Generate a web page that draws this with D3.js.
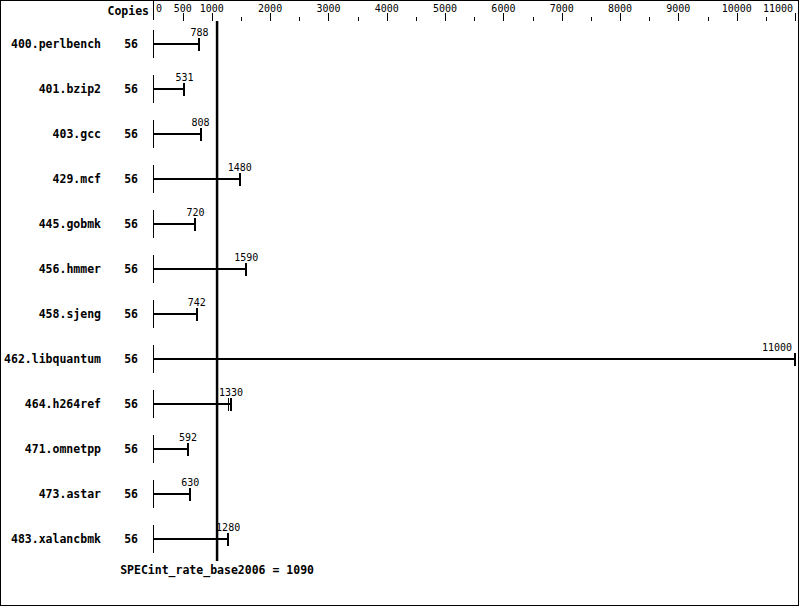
<!DOCTYPE html>
<html>
<head>
<meta charset="utf-8">
<script src="https://cdn.jsdelivr.net/npm/d3@7"></script>
<style>
  html, body { margin: 0; padding: 0; background: #fff; }
  svg { display: block; }
</style>
</head>
<body>
<div id="chart"></div>
<script>
const benchmarks = ["400.perlbench","401.bzip2","403.gcc","429.mcf","445.gobmk","456.hmmer","458.sjeng","462.libquantum","464.h264ref","471.omnetpp","473.astar","483.xalancbmk"];
const copies = [56,56,56,56,56,56,56,56,56,56,56,56];
const ratios = [788,531,808,1480,720,1590,742,11000,1330,592,630,1280];
const extraRunBench = ["464.h264ref"];
const extraRunValue = [1290];
const majorTicks = [500,1000,2000,3000,4000,5000,6000,7000,8000,9000,10000,11000];
const minorTicks = [1500,2500,3500,4500,5500,6500,7500,8500,9500,10500];
const tickLabels = [0,500,1000,2000,3000,4000,5000,6000,7000,8000,9000,10000,11000];
const baseScore = 1090;
const summaryLabel = "SPECint_rate_base2006 = 1090";

const W = 799, H = 606;
const svg = d3.select("#chart").append("svg").attr("width", W).attr("height", H);

svg.append("rect").attr("x",0.5).attr("y",0.5).attr("width",W-1).attr("height",H-1)
  .attr("fill","#fff").attr("stroke","#000").attr("stroke-width",1);

const x = d3.scaleLinear().domain([0, 11000]).range([153.5, 795]);
const y = d3.scalePoint().domain(benchmarks).range([44, 539]);

const mono = "'DejaVu Sans Mono', 'Liberation Mono', monospace";

// axis
const gAxis = svg.append("g").attr("shape-rendering","crispEdges");
gAxis.append("line").attr("x1",153.5).attr("x2",153.5).attr("y1",0).attr("y2",20).attr("stroke","#000");
gAxis.selectAll("line.maj").data(majorTicks).join("line").attr("class","maj")
  .attr("x1",d=>Math.round(x(d))+0.5).attr("x2",d=>Math.round(x(d))+0.5)
  .attr("y1",13).attr("y2",21).attr("stroke","#000");
gAxis.selectAll("line.min").data(minorTicks).join("line").attr("class","min")
  .attr("x1",d=>Math.round(x(d))+0.5).attr("x2",d=>Math.round(x(d))+0.5)
  .attr("y1",17).attr("y2",21).attr("stroke","#000");
svg.selectAll("text.tick").data(tickLabels).join("text").attr("class","tick")
  .attr("x", d => d === 0 ? 156 : (d === 11000 ? 793 : x(d)))
  .attr("y", 12)
  .attr("text-anchor", d => d === 0 ? "start" : (d === 11000 ? "end" : "middle"))
  .attr("font-family", mono).attr("font-size","10px")
  .text(d => d);

svg.append("text").attr("x",149).attr("y",15).attr("text-anchor","end")
  .attr("font-family",mono).attr("font-size","11.5px").attr("font-weight","bold").text("Copies");

// rows
const rows = benchmarks.map((b,i)=>({b, c: copies[i], v: ratios[i]}));
const gRows = svg.append("g");
gRows.selectAll("text.name").data(rows).join("text").attr("class","name")
  .attr("x",101).attr("y",d=>y(d.b)+4).attr("text-anchor","end")
  .attr("font-family",mono).attr("font-size","11.5px").attr("font-weight","bold").text(d=>d.b);
gRows.selectAll("text.copies").data(rows).join("text").attr("class","copies")
  .attr("x",138).attr("y",d=>y(d.b)+4).attr("text-anchor","end")
  .attr("font-family",mono).attr("font-size","11.5px").attr("font-weight","bold").text(d=>d.c);

const gl = svg.append("g").attr("shape-rendering","crispEdges");
gl.selectAll("line.start").data(rows).join("line").attr("class","start")
  .attr("x1",153.5).attr("x2",153.5).attr("y1",d=>y(d.b)-14).attr("y2",d=>y(d.b)+14)
  .attr("stroke","#000").attr("stroke-width",1);
gl.selectAll("line.bar").data(rows).join("line").attr("class","bar")
  .attr("x1",153).attr("x2",d=>x(d.v)).attr("y1",d=>y(d.b)).attr("y2",d=>y(d.b))
  .attr("stroke","#000").attr("stroke-width",2);
gl.selectAll("line.end").data(rows).join("line").attr("class","end")
  .attr("x1",d=>x(d.v)).attr("x2",d=>x(d.v)).attr("y1",d=>y(d.b)-6).attr("y2",d=>y(d.b)+7)
  .attr("stroke","#000").attr("stroke-width",2);
const extras = extraRunBench.map((b,i)=>({b, v: extraRunValue[i]}));
gl.selectAll("line.extra").data(extras).join("line").attr("class","extra")
  .attr("x1",d=>Math.floor(x(d.v))+0.5).attr("x2",d=>Math.floor(x(d.v))+0.5).attr("y1",d=>y(d.b)-6).attr("y2",d=>y(d.b)+7)
  .attr("stroke","#000").attr("stroke-width",1);

svg.selectAll("text.val").data(rows).join("text").attr("class","val")
  .attr("x", d => x(d.v) + 16 > 795 ? 792 : x(d.v))
  .attr("y", d => y(d.b) - 8)
  .attr("text-anchor", d => x(d.v) + 16 > 795 ? "end" : "middle")
  .attr("font-family",mono).attr("font-size","10px").text(d=>d.v);

// reference line
svg.append("line").attr("x1",x(baseScore)).attr("x2",x(baseScore)).attr("y1",21).attr("y2",561)
  .attr("stroke","#000").attr("stroke-width",2.5);
svg.append("text").attr("x",x(baseScore)).attr("y",574).attr("text-anchor","middle")
  .attr("font-family",mono).attr("font-size","11.5px").attr("font-weight","bold").text(summaryLabel);
</script>
</body>
</html>
